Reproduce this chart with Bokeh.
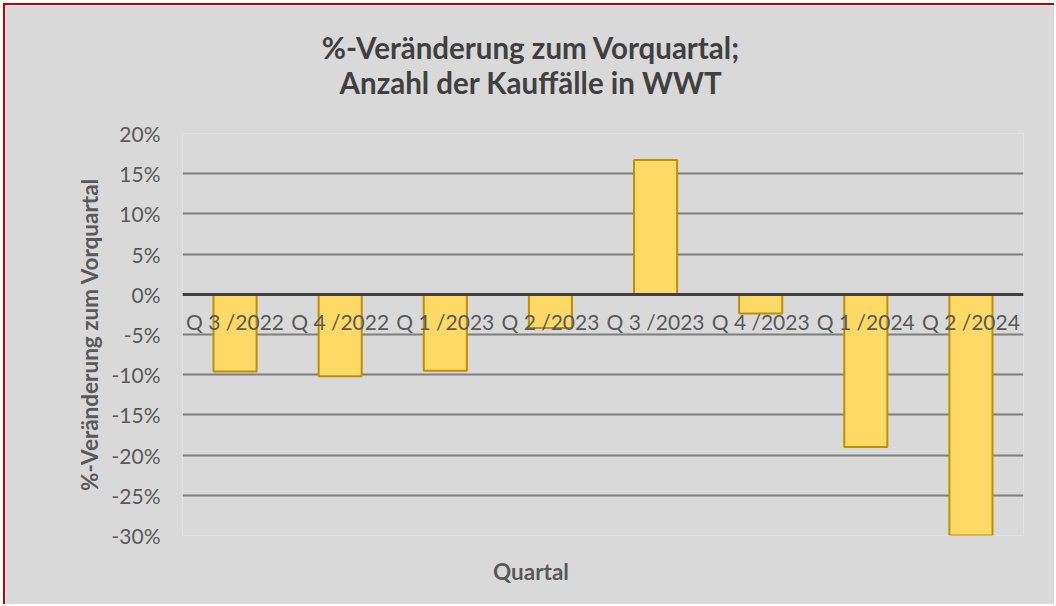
from bokeh.plotting import figure
from bokeh.models import FixedTicker, PrintfTickFormatter, Label
from bokeh.embed import file_html
from bokeh.resources import INLINE

categories = ["Q 3 /2022", "Q 4 /2022", "Q 1 /2023", "Q 2 /2023",
              "Q 3 /2023", "Q 4 /2023", "Q 1 /2024", "Q 2 /2024"]
values = [-9.6, -10.2, -9.5, -4.2, 16.7, -2.4, -19.0, -30.0]
y_ticks = [-30, -25, -20, -15, -10, -5, 0, 5, 10, 15, 20]
title_lines = ["%-Veränderung zum Vorquartal;", "Anzahl der Kauffälle in WWT"]
x_title = "Quartal"
y_title = "%-Veränderung zum Vorquartal"

BG = "#d9d9d9"
TXT = "#595959"
FONT = "Lato"

W, H = 1051, 601
LEFT, RIGHT, TOP, BOTTOM = 177, 33, 128, 71
Y0, Y1 = -30, 20

p = figure(x_range=categories, y_range=(Y0, Y1), width=W, height=H,
           output_backend="svg", toolbar_location=None,
           min_border_left=LEFT, min_border_right=RIGHT,
           min_border_top=TOP, min_border_bottom=BOTTOM)
p.background_fill_color = BG
p.border_fill_color = BG
p.outline_line_color = None
p.styles = {"border-left": "2px solid #c00000", "border-top": "2px solid #c00000",
            "margin-left": "3px", "margin-top": "3px"}

p.vbar(x=categories, top=values, bottom=0, width=0.41,
       fill_color="#ffd966", line_color="#bf9000", line_width=2)

# y axis
yax = p.yaxis[0]
yax.ticker = FixedTicker(ticks=y_ticks)
yax.formatter = PrintfTickFormatter(format="%d%%")
yax.axis_line_color = None
yax.major_tick_line_color = None
yax.minor_tick_line_color = None
yax.major_tick_out = 0
yax.major_tick_in = 0
yax.minor_tick_out = 0
yax.major_label_text_font = FONT
yax.major_label_text_font_size = "21px"
yax.major_label_text_color = TXT
yax.major_label_standoff = 22
yax.axis_label = y_title
yax.axis_label_text_font = FONT
yax.axis_label_text_font_size = "22.5px"
yax.axis_label_text_font_style = "bold"
yax.axis_label_text_color = TXT
yax.axis_label_standoff = 6

# x axis drawn at zero
xax = p.xaxis[0]
xax.fixed_location = 0
xax.axis_line_color = "#404040"
xax.axis_line_width = 3
xax.major_tick_line_color = None
xax.minor_tick_line_color = None
xax.major_tick_out = 0
xax.major_tick_in = 0
xax.minor_tick_out = 0
xax.major_label_text_font = FONT
xax.major_label_text_font_size = "21px"
xax.major_label_text_color = TXT
xax.major_label_standoff = 15

p.xgrid.grid_line_color = None
p.ygrid.ticker = FixedTicker(ticks=y_ticks)
p.ygrid.grid_line_color = "#7f7f7f"
p.ygrid.grid_line_width = 2

# texts outside the plotting frame live in a side panel (not clipped)
cx = W / 2 - LEFT  # pixel offset of figure centre from frame left
for line, dy in zip(title_lines, [86, 51]):
    p.add_layout(Label(x=0, y=Y1, x_offset=cx, y_offset=dy,
                       text=line, text_align="center", text_baseline="middle",
                       text_font=FONT, text_font_size="29.5px", text_font_style="bold",
                       text_color="#404040"), "above")

p.add_layout(Label(x=0, y=Y0, x_offset=cx, y_offset=-36,
                   text=x_title, text_align="center", text_baseline="middle",
                   text_font=FONT, text_font_size="22.5px", text_font_style="bold",
                   text_color=TXT), "above")

open("out.html", "w").write(file_html(p, INLINE))
